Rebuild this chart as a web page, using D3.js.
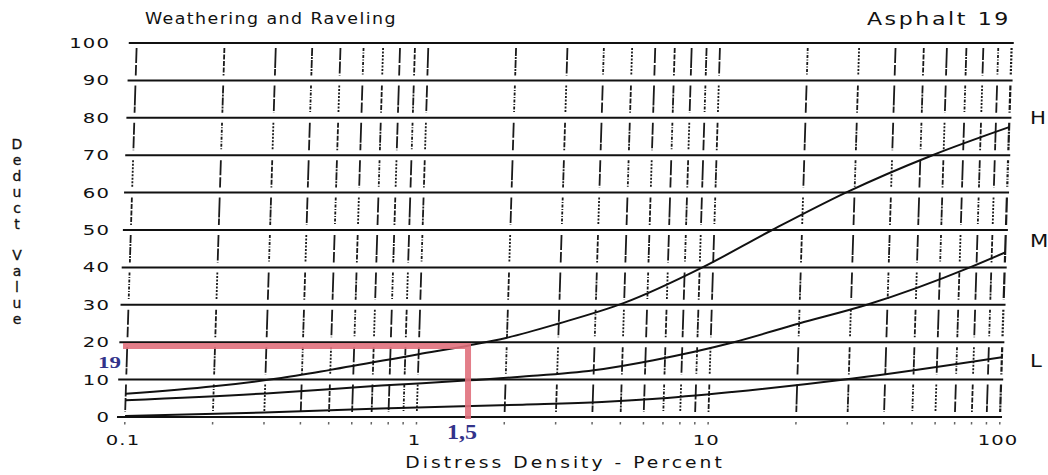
<!DOCTYPE html>
<html>
<head>
<meta charset="utf-8">
<script src="https://cdn.jsdelivr.net/npm/d3@7"></script>
<style>
  body { margin: 0; background: #fff; }
  text { font-family: "DejaVu Sans", sans-serif; fill: #111; }
</style>
</head>
<body>
<div id="container"></div>
<script>
/* CONSTANTS AND GLOBALS */
const width = 1048,
  height = 475,
  margin = { top: 43, bottom: 58, left: 125, right: 48 };

/* DATA */
const xTicks = [0.1, 1, 10, 100];
const xTickLabels = ["0.1", "1", "10", "100"];
const yTicks = [0, 10, 20, 30, 40, 50, 60, 70, 80, 90, 100];
const gridX = [0.1, 0.2, 0.3, 0.4, 0.5, 0.6, 0.7, 0.8, 0.9,
  1, 2, 3, 4, 5, 6, 7, 8, 9,
  10, 20, 30, 40, 50, 60, 70, 80, 90, 100];

// severity curves: [density, deduct]
const curveH = [[0.1, 6.2], [0.2, 8.2], [0.33, 10.3], [0.5, 12.6], [1, 16.8], [1.5, 19.2],
  [2, 21.2], [3, 25], [5, 30.5], [9.2, 40], [15.8, 50], [28, 60], [55, 70], [100, 77.5]];
const curveM = [[0.1, 4.5], [0.33, 6.5], [0.75, 8.4], [1.5, 9.8], [2.3, 10.8], [4, 12.5],
  [6.4, 15.2], [12, 20], [20, 25], [34, 30], [76, 40], [100, 44]];
const curveL = [[0.1, 0.3], [0.3, 1.2], [0.75, 2.3], [2.3, 3.3], [4.3, 4], [6.4, 4.8],
  [12, 6.7], [31, 10.3], [100, 16]];
const curveNames = ["H", "M", "L"];
const nameLevels = [80, 47, 15];

// reading marked in red
const markX = 1.5, markY = 19;
const markXLabel = "1,5", markYLabel = "19";

const title = "Weathering and Raveling";
const subtitle = "Asphalt 19";
const xTitle = "Distress Density - Percent";
const yTitle = "Deduct Value";

/* SCALES */
const xScale = d3.scaleLog()
  .domain([0.1, 100])
  .range([margin.left, width - margin.right]);

const yScale = d3.scaleLinear()
  .domain([0, 100])
  .range([height - margin.bottom, margin.top]);

/* SVG */
const svg = d3.select("#container")
  .append("svg")
  .attr("width", width)
  .attr("height", height);

// the old typewriter lettering is wide, so stretch glyphs sideways
function wide(sel, x, y, sx) {
  return sel.attr("transform", `translate(${x},${y}) scale(${sx},1)`);
}

const y0 = yScale(0);
// scanned sheet is slightly sheared, top sits right of bottom
const plot = svg.append("g")
  .attr("transform", `translate(0,${y0}) skewX(-1.8) translate(0,${-y0})`);

// vertical dashed grid, broken at every horizontal line
const dashes = ["12,1.5", "5,1.5", "3,1.5,1,1.5", "20,1", "2,1.5", "8,1,2,1", "15,2"];
const bands = yTicks.slice(0, -1);
gridX.forEach((gx, i) => {
  plot.selectAll(null)
    .data(bands)
    .join("line")
    .attr("x1", xScale(gx))
    .attr("x2", xScale(gx))
    .attr("y1", d => yScale(d + 10) + 5)
    .attr("y2", d => yScale(d) - 5)
    .attr("stroke", "#1a1a1a")
    .attr("stroke-width", gx === 100 ? 2.2 : 1.8)
    .attr("stroke-dasharray", (d, j) => dashes[(i * 2 + j * 3) % dashes.length]);
});

// small marks under the zero line
plot.selectAll(".tickdot")
  .data(gridX)
  .join("line")
  .attr("class", "tickdot")
  .attr("x1", d => xScale(d))
  .attr("x2", d => xScale(d))
  .attr("y1", y0 + 5)
  .attr("y2", y0 + 7.5)
  .attr("stroke", "#666")
  .attr("stroke-width", 1.5);

// horizontal grid
plot.selectAll(".hgrid")
  .data(yTicks)
  .join("line")
  .attr("class", "hgrid")
  .attr("x1", xScale(0.1) - 8)
  .attr("x2", xScale(100) + 2)
  .attr("y1", d => yScale(d))
  .attr("y2", d => yScale(d))
  .attr("stroke", "#111")
  .attr("stroke-width", 2);

// curves
const lineGen = d3.line()
  .x(d => xScale(d[0]))
  .y(d => yScale(d[1]))
  .curve(d3.curveMonotoneX);

plot.selectAll(".curve")
  .data([curveH, curveM, curveL])
  .join("path")
  .attr("class", "curve")
  .attr("fill", "none")
  .attr("stroke", "#111")
  .attr("stroke-width", 2)
  .attr("d", d => lineGen(d));

// red reading lines
svg.append("path")
  .attr("fill", "none")
  .attr("stroke", "#e0707c")
  .attr("stroke-opacity", 0.9)
  .attr("stroke-width", 6)
  .attr("d", `M${xScale(0.1) - 2},${yScale(markY)} H${xScale(markX)} V${y0 + 2}`);

wide(svg.append("text"), xScale(0.1) - 4, yScale(markY) + 22, 1.35)
  .attr("text-anchor", "end")
  .style("font-family", "'Liberation Serif', serif")
  .style("font-weight", "bold")
  .style("font-size", "17px")
  .style("fill", "#33338a")
  .text(markYLabel);

wide(svg.append("text"), xScale(markX) - 6, y0 + 22, 1.2)
  .attr("text-anchor", "middle")
  .style("font-family", "'Liberation Serif', serif")
  .style("font-weight", "bold")
  .style("font-size", "20px")
  .style("fill", "#33338a")
  .text(markXLabel);

// AXES LABELS
svg.selectAll(".ylab")
  .data(yTicks)
  .join("text")
  .attr("class", "ylab")
  .each(function (d) { wide(d3.select(this), 110, yScale(d) + 5, 1.4); })
  .attr("text-anchor", "end")
  .style("font-size", "14px")
  .style("letter-spacing", "0.8px")
  .text(d => d);

svg.selectAll(".xlab")
  .data(xTicks)
  .join("text")
  .attr("class", "xlab")
  .each(function (d) { wide(d3.select(this), xScale(d) - 2, y0 + 28, 1.4); })
  .attr("text-anchor", "middle")
  .style("font-size", "14px")
  .style("letter-spacing", "0.8px")
  .text((d, i) => xTickLabels[i]);

wide(svg.append("text"), 565, 468, 1.25)
  .attr("text-anchor", "middle")
  .style("font-size", "15px")
  .style("letter-spacing", "2.4px")
  .text(xTitle);

// vertical stacked y title
const yLetters = yTitle.split("");
svg.selectAll(".ytitle")
  .data(yLetters)
  .join("text")
  .attr("class", "ytitle")
  .attr("x", 17)
  .attr("y", (d, i) => 149 + i * 15.9)
  .attr("text-anchor", "middle")
  .style("font-size", "14px")
  .style("stroke", "#111")
  .style("stroke-width", 0.3)
  .text(d => d);

wide(svg.append("text"), 145, 24, 1.09)
  .style("font-size", "16px")
  .style("letter-spacing", "1.3px")
  .text(title);

wide(svg.append("text"), 1011, 25, 1.3)
  .attr("text-anchor", "end")
  .style("font-size", "17px")
  .style("letter-spacing", "2px")
  .text(subtitle);

// severity labels at the right
svg.selectAll(".sev")
  .data(curveNames)
  .join("text")
  .attr("class", "sev")
  .each(function (d, i) { wide(d3.select(this), 1030, yScale(nameLevels[i]) + 6, 1.25); })
  .style("font-size", "17px")
  .text(d => d);
</script>
</body>
</html>
